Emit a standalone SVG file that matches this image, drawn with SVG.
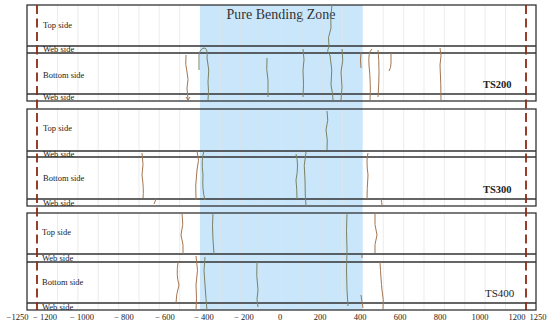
<svg xmlns="http://www.w3.org/2000/svg" width="550" height="328" viewBox="0 0 550 328">
<style>
.frame{fill:none;stroke:#333;stroke-width:1.3}
.div{stroke:#333;stroke-width:1.3}
.grid{stroke:#e4e4e4;stroke-width:0.7}
.lbl{font-family:"Liberation Serif",serif;font-size:8.5px;fill:#222}
.ts{font-family:"Liberation Serif",serif;font-size:10.5px;font-weight:bold;fill:#222}
.tick{font-family:"Liberation Serif",serif;font-size:8.5px;fill:#222;text-anchor:middle}
.cr{fill:none;stroke:#a4754f;stroke-width:1}
.cg{fill:none;stroke:#7a8262;stroke-width:1}
.dash{stroke:#8b2a14;stroke-width:1.8;stroke-dasharray:9,4.5}
</style>
<rect width="550" height="328" fill="#fff"/>
<g id="zone">
<rect x="200" y="5" width="162.7" height="305" fill="#c9e6fb"/>
<text x="281" y="19" font-family="Liberation Serif,serif" font-size="14" fill="#333" text-anchor="middle">Pure Bending Zone</text>
</g>
<g id="grid">
<path class="grid" d="M57.5,5V101M77.9,5V101M98.2,5V101M118.6,5V101M139,5V101M159.3,5V101M179.7,5V101M220.4,5V101M240.8,5V101M261.1,5V101M281.5,5V101M301.9,5V101M322.2,5V101M342.6,5V101M383.3,5V101M403.7,5V101M424,5V101M444.4,5V101M464.8,5V101M485.1,5V101M505.5,5V101"/>
<path class="grid" d="M57.5,109V206M77.9,109V206M98.2,109V206M118.6,109V206M139,109V206M159.3,109V206M179.7,109V206M220.4,109V206M240.8,109V206M261.1,109V206M281.5,109V206M301.9,109V206M322.2,109V206M342.6,109V206M383.3,109V206M403.7,109V206M424,109V206M444.4,109V206M464.8,109V206M485.1,109V206M505.5,109V206"/>
<path class="grid" d="M57.5,213V310M77.9,213V310M98.2,213V310M118.6,213V310M139,213V310M159.3,213V310M179.7,213V310M220.4,213V310M240.8,213V310M261.1,213V310M281.5,213V310M301.9,213V310M322.2,213V310M342.6,213V310M383.3,213V310M403.7,213V310M424,213V310M444.4,213V310M464.8,213V310M485.1,213V310M505.5,213V310"/>
</g>
<g id="ts200">
<rect class="frame" x="27" y="5" width="509" height="96"/>
<path class="div" d="M27,46H536M27,53H536M27,94H536"/>
<text class="lbl" x="43" y="28">Top side</text>
<text class="lbl" x="43" y="52">Web side</text>
<text class="lbl" x="43" y="78">Bottom side</text>
<text class="lbl" x="43" y="100">Web side</text>
<text class="ts" x="483" y="88">TS200</text>
<path class="cr" d="M186,55Q185,65 187,72T187,88L188,100M186,97L188,100L190,97"/>
<path class="cg" d="M199,70L199,55Q200,48 205,48Q208,50 207,58Q210,70 208,82Q209,92 208,100"/>
<path class="cg" d="M267,58Q266,70 268,80L268,97"/>
<path class="cg" d="M303,49Q305,60 303,70Q304,85 303,97"/>
<path class="cg" d="M332,5Q330,18 331,28Q327,38 329,47Q326,52 330,55Q333,70 331,85Q333,95 333,100"/>
<path class="cg" d="M342,49Q344,60 341,72Q343,88 341,100"/>
<path class="cr" d="M361,52Q360,60 361,68"/>
<path class="cr" d="M372,49Q368,52 369,65Q371,85 370,100"/>
<path class="cr" d="M378,50Q380,70 378,97"/>
<path class="cr" d="M391,53L391,63Q391,68 389,71"/>
<path class="cr" d="M440,48Q442,55 440,65Q441,85 441,100"/>
</g>
<g id="ts300">
<rect class="frame" x="27" y="109" width="509" height="97"/>
<path class="div" d="M27,151H536M27,157H536M27,199H536"/>
<text class="lbl" x="43" y="131">Top side</text>
<text class="lbl" x="43" y="157">Web side</text>
<text class="lbl" x="43" y="181">Bottom side</text>
<text class="lbl" x="43" y="206">Web side</text>
<text class="ts" x="483" y="193">TS300</text>
<path class="cr" d="M142,153Q144,165 142,175Q144,190 143,198"/>
<path class="cr" d="M156,199L154,204"/>
<path class="cr" d="M197,151Q200,160 197,170Q195,185 196,200"/>
<path class="cg" d="M204,151Q201,160 203,175Q202,190 205,200"/>
<path class="cg" d="M327,111Q329,120 326,130Q328,140 327,150"/>
<path class="cg" d="M296,154Q299,165 296,180Q297,190 297,199"/>
<path class="cg" d="M306,152Q303,165 305,180Q305,195 306,206"/>
<path class="cr" d="M368,153Q366,160 368,175Q367,190 367,199"/>
<path class="cr" d="M381,199Q382,203 382,206"/>
</g>
<g id="ts400">
<rect class="frame" x="27" y="213" width="509" height="97"/>
<path class="div" d="M27,254H536M27,262H536M27,303H536"/>
<text class="lbl" x="42" y="235">Top side</text>
<text class="lbl" x="42" y="261">Web side</text>
<text class="lbl" x="42" y="285">Bottom side</text>
<text class="lbl" x="42" y="310">Web side</text>
<text x="485" y="297" font-family="Liberation Serif,serif" font-size="11" fill="#222">TS400</text>
<path class="cr" d="M182,213Q184,225 181,235Q184,245 183,254"/>
<path class="cg" d="M213,213Q212,225 213,240L214,254"/>
<path class="cr" d="M178,262Q176,275 179,285Q176,295 176,303"/>
<path class="cr" d="M196,256Q199,270 196,285Q197,300 196,310"/>
<path class="cg" d="M205,257Q203,270 205,285Q206,300 207,310"/>
<path class="cg" d="M257,262Q256,275 258,290Q256,300 258,307"/>
<path class="cg" d="M347,213Q346,230 347,250Q346,270 347,290L348,306"/>
<path class="cr" d="M362,255L362,258M361,295Q362,302 363,308"/>
<path class="cr" d="M375,213Q374,225 377,235Q374,245 375,253"/>
<path class="cr" d="M380,262Q381,280 382,290Q384,300 383,309"/>
</g>
<g id="supports">
<path class="dash" d="M37,5V310M526,5V310"/>
</g>
<g id="axis">
<text class="tick" x="17.5" y="320">−1250</text>
<text class="tick" x="45" y="320">− 1200</text>
<text class="tick" x="82" y="320">− 1000</text>
<text class="tick" x="124" y="320">− 800</text>
<text class="tick" x="165" y="320">− 600</text>
<text class="tick" x="204" y="320">− 400</text>
<text class="tick" x="244" y="320">− 200</text>
<text class="tick" x="280" y="320">0</text>
<text class="tick" x="320" y="320">200</text>
<text class="tick" x="360" y="320">400</text>
<text class="tick" x="400" y="320">600</text>
<text class="tick" x="440" y="320">800</text>
<text class="tick" x="480" y="320">1000</text>
<text class="tick" x="517" y="320">1200</text>
<text class="tick" x="538" y="320">1250</text>
</g>
</svg>
